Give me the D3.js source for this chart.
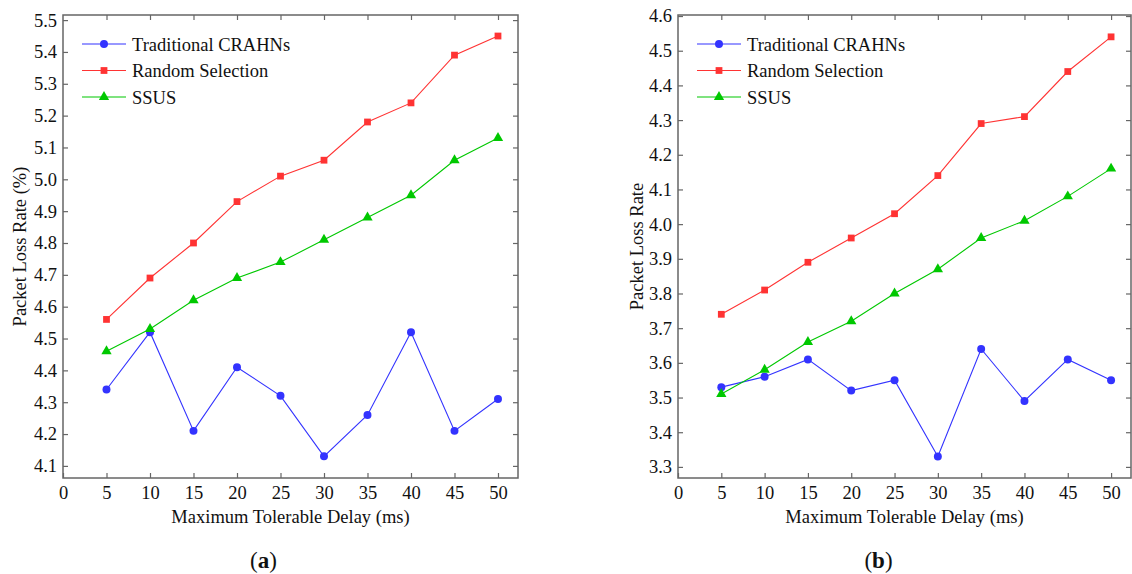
<!DOCTYPE html>
<html>
<head>
<meta charset="utf-8">
<script src="https://cdn.jsdelivr.net/npm/d3@7"></script>
<style>
  body { margin: 0; background: #fff; }
  svg text { font-family: 'Liberation Serif', 'Times New Roman', Times, 'DejaVu Serif', serif; fill: #111; }
</style>
</head>
<body>
<div id="chart"></div>
<script>
var delays = [5, 10, 15, 20, 25, 30, 35, 40, 45, 50];
var xTickValues = [0, 5, 10, 15, 20, 25, 30, 35, 40, 45, 50];
var seriesNames = ['Traditional CRAHNs', 'Random Selection', 'SSUS'];

var traditionalA = [4.34, 4.52, 4.21, 4.41, 4.32, 4.13, 4.26, 4.52, 4.21, 4.31];
var randomA = [4.56, 4.69, 4.80, 4.93, 5.01, 5.06, 5.18, 5.24, 5.39, 5.45];
var ssusA = [4.46, 4.53, 4.62, 4.69, 4.74, 4.81, 4.88, 4.95, 5.06, 5.13];
var yTicksA = [4.1, 4.2, 4.3, 4.4, 4.5, 4.6, 4.7, 4.8, 4.9, 5.0, 5.1, 5.2, 5.3, 5.4, 5.5];

var traditionalB = [3.53, 3.56, 3.61, 3.52, 3.55, 3.33, 3.64, 3.49, 3.61, 3.55];
var randomB = [3.74, 3.81, 3.89, 3.96, 4.03, 4.14, 4.29, 4.31, 4.44, 4.54];
var ssusB = [3.51, 3.58, 3.66, 3.72, 3.80, 3.87, 3.96, 4.01, 4.08, 4.16];
var yTicksB = [3.3, 3.4, 3.5, 3.6, 3.7, 3.8, 3.9, 4.0, 4.1, 4.2, 4.3, 4.4, 4.5, 4.6];

var colors = ['#3333ff', '#ff3333', '#00c800'];
var symbols = [d3.symbolCircle, d3.symbolSquare, d3.symbolTriangle];
var symbolSizes = [50, 46, 46];

var svg = d3.select('#chart').append('svg')
    .attr('width', 1132)
    .attr('height', 574);

function drawPanel(opts) {
    var left = opts.left, top = 15, width = opts.width, height = 463;
    var g = svg.append('g').attr('transform', 'translate(' + left + ',' + top + ')');

    var x = d3.scaleLinear().domain([0, 52.3]).range([0, width]);
    var y = d3.scaleLinear().domain(opts.yDomain).range([height, 0]);

    // frame
    g.append('rect')
        .attr('width', width).attr('height', height)
        .attr('fill', 'none').attr('stroke', '#666').attr('stroke-width', 1.5);

    var fmt = d3.format('.1f');
    var xAxis = g.append('g').attr('transform', 'translate(0,' + height + ')')
        .call(d3.axisBottom(x).tickValues(xTickValues).tickSize(-5).tickPadding(8).tickFormat(d3.format('d')));
    var xTop = g.append('g')
        .call(d3.axisTop(x).tickValues(xTickValues.slice(1)).tickSize(-5).tickFormat(''));
    var yAxis = g.append('g')
        .call(d3.axisLeft(y).tickValues(opts.yTicks).tickSize(-5).tickPadding(6).tickFormat(fmt));
    var yRight = g.append('g').attr('transform', 'translate(' + width + ',0)')
        .call(d3.axisRight(y).tickValues(opts.yTicks).tickSize(-5).tickFormat(''));

    [xAxis, xTop, yAxis, yRight].forEach(function (a) {
        a.attr('font-family', null).attr('font-size', null);
        a.select('.domain').remove();
        a.selectAll('line').attr('stroke', '#666').attr('stroke-width', 1.2);
        a.selectAll('text').style('font-size', '18.5px').attr('fill', '#111');
    });

    var line = d3.line()
        .x(function (d, i) { return x(delays[i]); })
        .y(function (d) { return y(d); });

    opts.series.forEach(function (vals, k) {
        g.append('path').datum(vals)
            .attr('d', line)
            .attr('fill', 'none')
            .attr('stroke', colors[k])
            .attr('stroke-width', 1.1);
        g.selectAll('.m' + k).data(vals).enter().append('path')
            .attr('class', 'm' + k)
            .attr('transform', function (d, i) { return 'translate(' + x(delays[i]) + ',' + y(d) + ')'; })
            .attr('d', d3.symbol().type(symbols[k]).size(symbolSizes[k]))
            .attr('fill', colors[k]);
    });

    // legend
    var lg = g.append('g').attr('transform', 'translate(19,29)');
    seriesNames.forEach(function (name, k) {
        var row = lg.append('g').attr('transform', 'translate(0,' + (k * 26.5) + ')');
        row.append('line').attr('x1', 0).attr('x2', 44).attr('y1', 0).attr('y2', 0)
            .attr('stroke', colors[k]).attr('stroke-width', 1.1);
        row.append('path').attr('transform', 'translate(22,0)')
            .attr('d', d3.symbol().type(symbols[k]).size(symbolSizes[k]))
            .attr('fill', colors[k]);
        row.append('text').attr('x', 50).attr('y', 6.5).style('font-size', '18.5px').text(name);
    });

    // axis titles
    g.append('text')
        .attr('x', width / 2).attr('y', height + 45)
        .attr('text-anchor', 'middle').style('font-size', '18.5px')
        .text('Maximum Tolerable Delay (ms)');
    g.append('text')
        .attr('transform', 'rotate(-90)')
        .attr('x', -height / 2).attr('y', opts.yLabelX)
        .attr('text-anchor', 'middle').style('font-size', '18.5px')
        .text(opts.yLabel);

    // caption
    svg.append('text')
        .attr('x', left + width / 2 + opts.capShift).attr('y', 568)
        .attr('text-anchor', 'middle').style('font-size', '23px')
        .html('(<tspan font-weight="bold">' + opts.caption + '</tspan>)');
}

drawPanel({
    left: 63, width: 455,
    yDomain: [4.062, 5.516], yTicks: yTicksA,
    series: [traditionalA, randomA, ssusA],
    yLabel: 'Packet Loss Rate (%)', yLabelX: -37,
    caption: 'a', capShift: -27
});
drawPanel({
    left: 678, width: 453,
    yDomain: [3.268, 4.603], yTicks: yTicksB,
    series: [traditionalB, randomB, ssusB],
    yLabel: 'Packet Loss Rate', yLabelX: -35,
    caption: 'b', capShift: -26
});
</script>
</body>
</html>
